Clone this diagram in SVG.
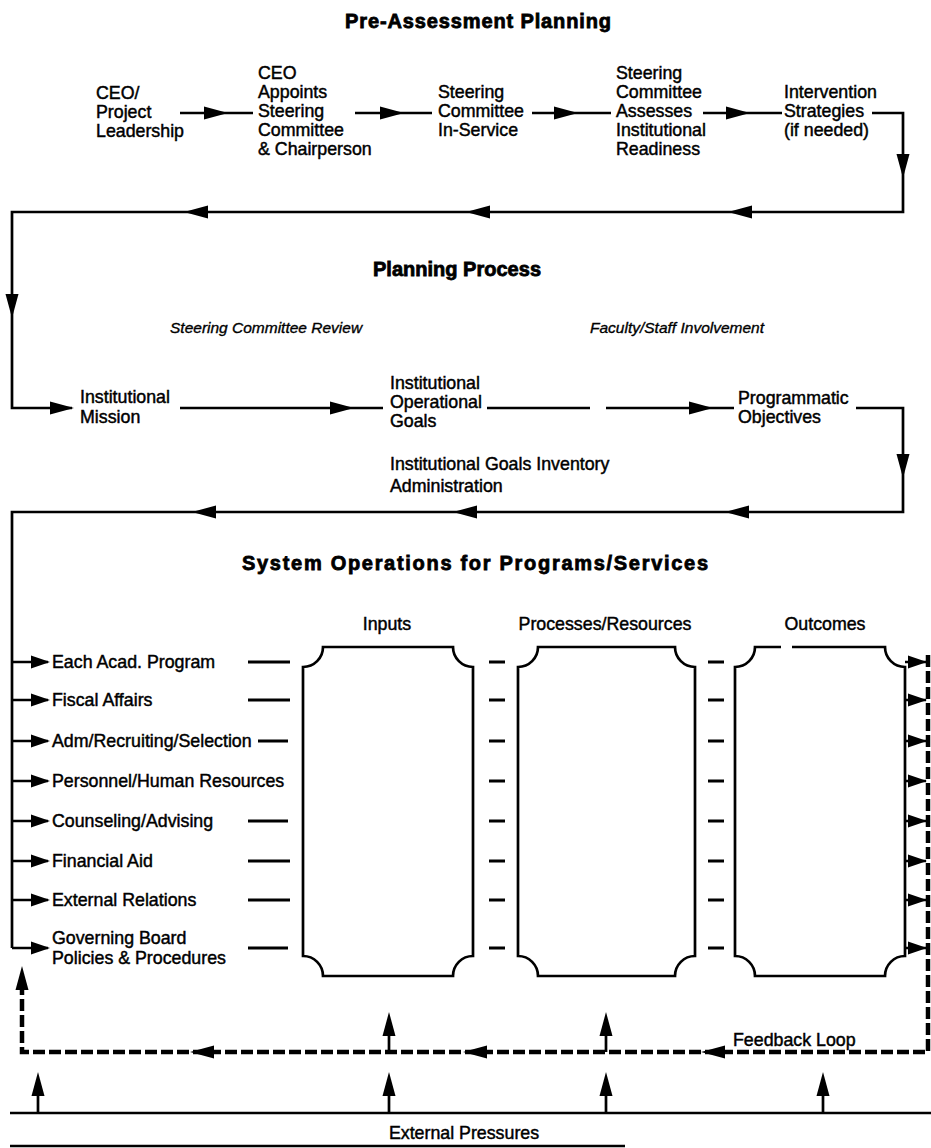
<svg xmlns="http://www.w3.org/2000/svg" xmlns:xlink="http://www.w3.org/1999/xlink" width="931" height="1148" viewBox="0 0 931 1148">
<style>
text{font-family:"Liberation Sans",Arial,sans-serif;fill:#000}
.t{font-size:17.8px;stroke:#000;stroke-width:0.45}
.h{font-size:20px;font-weight:bold;text-anchor:middle;stroke:#000;stroke-width:0.8}
.i{font-size:15.5px;font-style:italic;stroke:#000;stroke-width:0.35}
.l{fill:none;stroke:#000;stroke-width:2.7}
.d{fill:none;stroke:#000;stroke-width:4.5;stroke-dasharray:12 4}
.b{fill:none;stroke:#000;stroke-width:2.7}
.s{stroke:#000;stroke-width:3.2}
</style>
<defs>
<path id="ah" d="M0,0 L-24,-6.5 L-24,6.5 Z" fill="#000"/>
<path id="sh" d="M0,0 L-19,-6.5 L-19,6.5 Z" fill="#000"/>
</defs>
<rect width="931" height="1148" fill="#fff"/>

<text class="h" x="478" y="28" textLength="266" lengthAdjust="spacing">Pre-Assessment Planning</text>
<text class="h" x="457" y="276" textLength="168" lengthAdjust="spacing">Planning Process</text>
<text class="h" x="475" y="570" textLength="466" lengthAdjust="spacing">System Operations for Programs/Services</text>

<g id="n-ceo"><text class="t" x="96" y="99">CEO/</text><text class="t" x="96" y="118">Project</text><text class="t" x="96" y="137">Leadership</text></g>
<g id="n-appoints"><text class="t" x="258" y="79">CEO</text><text class="t" x="258" y="98">Appoints</text><text class="t" x="258" y="117">Steering</text><text class="t" x="258" y="136">Committee</text><text class="t" x="258" y="155">&amp; Chairperson</text></g>
<g id="n-inservice"><text class="t" x="438" y="98">Steering</text><text class="t" x="438" y="117">Committee</text><text class="t" x="438" y="136">In-Service</text></g>
<g id="n-assesses"><text class="t" x="616" y="79">Steering</text><text class="t" x="616" y="98">Committee</text><text class="t" x="616" y="117">Assesses</text><text class="t" x="616" y="136">Institutional</text><text class="t" x="616" y="155">Readiness</text></g>
<g id="n-intervention"><text class="t" x="784" y="98">Intervention</text><text class="t" x="784" y="117">Strategies</text><text class="t" x="784" y="136">(if needed)</text></g>

<g id="n-review"><text class="i" x="170" y="333">Steering Committee Review</text></g>
<g id="n-faculty"><text class="i" x="590" y="333">Faculty/Staff Involvement</text></g>

<g id="n-mission"><text class="t" x="80" y="403">Institutional</text><text class="t" x="80" y="423">Mission</text></g>
<g id="n-goals"><text class="t" x="390" y="389">Institutional</text><text class="t" x="390" y="408">Operational</text><text class="t" x="390" y="427">Goals</text></g>
<g id="n-objectives"><text class="t" x="738" y="404">Programmatic</text><text class="t" x="738" y="423">Objectives</text></g>
<g id="n-inventory"><text class="t" x="390" y="470">Institutional Goals Inventory</text><text class="t" x="390" y="492">Administration</text></g>

<g id="n-headers"><text class="t" x="387" y="630" text-anchor="middle">Inputs</text><text class="t" x="605" y="630" text-anchor="middle">Processes/Resources</text><text class="t" x="825" y="630" text-anchor="middle">Outcomes</text></g>

<g id="n-inputs"><path class="b" d="M323,647 H453 A20 20 0 0 0 473,667 V956 A20 20 0 0 0 453,976 H323 A20 20 0 0 0 303,956 V667 A20 20 0 0 0 323,647 Z"/></g>
<g id="n-processes"><path class="b" d="M538,647 H675 A20 20 0 0 0 695,667 V956 A20 20 0 0 0 675,976 H538 A20 20 0 0 0 518,956 V667 A20 20 0 0 0 538,647 Z"/></g>
<g id="n-outcomes"><path class="b" d="M792,647 H885 A20 20 0 0 0 905,667 V956 A20 20 0 0 0 885,976 H755 A20 20 0 0 0 735,956 V667 A20 20 0 0 0 755,647 H781"/></g>

<g id="n-units">
<text class="t" x="52" y="668">Each Acad. Program</text>
<text class="t" x="52" y="706">Fiscal Affairs</text>
<text class="t" x="52" y="747">Adm/Recruiting/Selection</text>
<text class="t" x="52" y="787">Personnel/Human Resources</text>
<text class="t" x="52" y="827">Counseling/Advising</text>
<text class="t" x="52" y="867">Financial Aid</text>
<text class="t" x="52" y="906">External Relations</text>
<text class="t" x="52" y="944">Governing Board</text>
<text class="t" x="52" y="964">Policies &amp; Procedures</text>
</g>

<g id="n-feedback"><text class="t" x="733" y="1046">Feedback Loop</text></g>
<g id="n-external"><text class="t" x="464" y="1139" text-anchor="middle">External Pressures</text></g>

<g id="connectors">
<path class="l" d="M180,113 H253 M355,113 H432 M532,113 H611 M703,113 H782 M872,113 H903 V212 H12 V408 H72 M180,408 H383 M487,408 H590 M606,408 H734 M856,408 H903 V512 H12 V948"/>
<use xlink:href="#ah" transform="translate(228,113)"/>
<use xlink:href="#ah" transform="translate(404,113)"/>
<use xlink:href="#ah" transform="translate(578,113)"/>
<use xlink:href="#ah" transform="translate(750,113)"/>
<use xlink:href="#ah" transform="translate(903,178) rotate(90)"/>
<use xlink:href="#ah" transform="translate(728,212) rotate(180)"/>
<use xlink:href="#ah" transform="translate(466,212) rotate(180)"/>
<use xlink:href="#ah" transform="translate(184,212) rotate(180)"/>
<use xlink:href="#ah" transform="translate(12,318) rotate(90)"/>
<use xlink:href="#ah" transform="translate(74,408)"/>
<use xlink:href="#ah" transform="translate(354,408)"/>
<use xlink:href="#ah" transform="translate(713,408)"/>
<use xlink:href="#ah" transform="translate(903,478) rotate(90)"/>
<use xlink:href="#ah" transform="translate(725,512) rotate(180)"/>
<use xlink:href="#ah" transform="translate(453,512) rotate(180)"/>
<use xlink:href="#ah" transform="translate(192,512) rotate(180)"/>

<path class="l" d="M12,662 H48 M12,700 H48 M12,741 H48 M12,781 H48 M12,821 H48 M12,861 H48 M12,900 H48 M12,948 H48"/>
<use xlink:href="#sh" transform="translate(50,662)"/>
<use xlink:href="#sh" transform="translate(50,700)"/>
<use xlink:href="#sh" transform="translate(50,741)"/>
<use xlink:href="#sh" transform="translate(50,781)"/>
<use xlink:href="#sh" transform="translate(50,821)"/>
<use xlink:href="#sh" transform="translate(50,861)"/>
<use xlink:href="#sh" transform="translate(50,900)"/>
<use xlink:href="#sh" transform="translate(50,948)"/>

<path class="s" d="M248,662 H290 M248,700 H290 M258,741 H288 M248,821 H288 M248,861 H290 M248,900 H290 M248,948 H288"/>
<path class="s" d="M489,662 H505 M489,700 H505 M489,741 H505 M489,781 H505 M489,821 H505 M489,861 H505 M489,900 H505 M489,948 H505"/>
<path class="s" d="M708,662 H724 M708,700 H724 M708,741 H724 M708,781 H724 M708,821 H724 M708,861 H724 M708,900 H724 M708,948 H724"/>

<path class="l" d="M905,662 H926 M905,700 H926 M905,741 H926 M905,781 H926 M905,821 H926 M905,861 H926 M905,900 H926 M905,948 H926"/>
<use xlink:href="#sh" transform="translate(927,662)"/>
<use xlink:href="#sh" transform="translate(927,700)"/>
<use xlink:href="#sh" transform="translate(927,741)"/>
<use xlink:href="#sh" transform="translate(927,781)"/>
<use xlink:href="#sh" transform="translate(927,821)"/>
<use xlink:href="#sh" transform="translate(927,861)"/>
<use xlink:href="#sh" transform="translate(927,900)"/>
<use xlink:href="#sh" transform="translate(927,948)"/>

<path class="d" d="M928,655 V1052 H22 V978"/>
<use xlink:href="#ah" transform="translate(22,966) rotate(-90)"/>
<use xlink:href="#ah" transform="translate(701,1052) rotate(180)"/>
<use xlink:href="#ah" transform="translate(463,1052) rotate(180)"/>
<use xlink:href="#ah" transform="translate(190,1052) rotate(180)"/>
<path class="l" d="M389,1052 V1025 M606,1052 V1025"/>
<use xlink:href="#ah" transform="translate(389,1012) rotate(-90)"/>
<use xlink:href="#ah" transform="translate(606,1012) rotate(-90)"/>

<path class="l" d="M10,1113 H931 M38,1113 V1085 M389,1113 V1085 M606,1113 V1085 M823,1113 V1085"/>
<use xlink:href="#ah" transform="translate(38,1072) rotate(-90)"/>
<use xlink:href="#ah" transform="translate(389,1072) rotate(-90)"/>
<use xlink:href="#ah" transform="translate(606,1072) rotate(-90)"/>
<use xlink:href="#ah" transform="translate(823,1072) rotate(-90)"/>
<path class="l" d="M10,1146 H625"/>
</g>
</svg>
